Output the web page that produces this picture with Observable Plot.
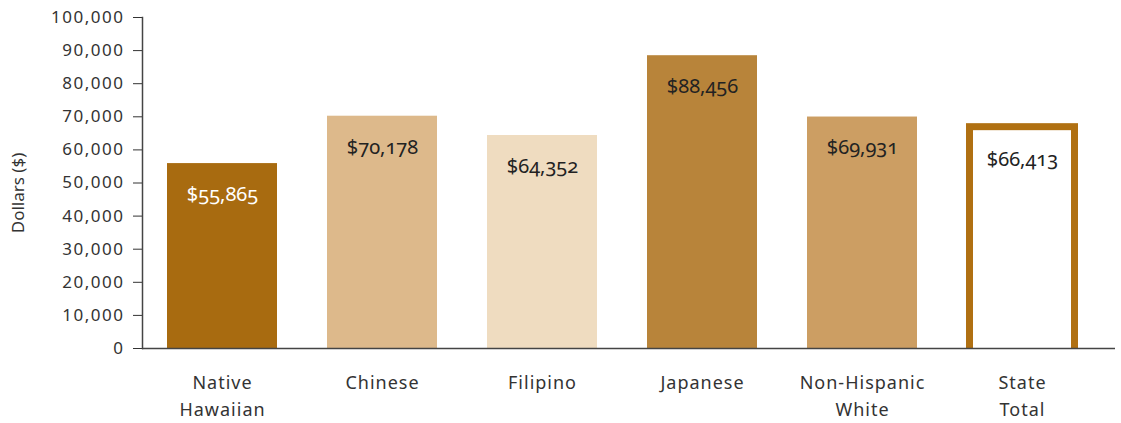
<!DOCTYPE html>
<html>
<head>
<meta charset="utf-8">
<script src="https://cdn.jsdelivr.net/npm/d3@7"></script>
<script src="https://cdn.jsdelivr.net/npm/@observablehq/plot@0.6"></script>
<style>
  html, body { margin: 0; padding: 0; background: #fff; }
  #chart svg { font-family: "Noto Sans", "Open Sans", sans-serif; font-variant-numeric: oldstyle-nums; }
  #chart svg g[aria-label="y-axis tick label"] text { letter-spacing: 1.5px; font-size: 17px; }
  #chart svg g[aria-label="x-axis tick label"] text { letter-spacing: 1px; font-size: 18px; }
</style>
</head>
<body>
<div id="chart"></div>
<script>
const categories = ["Native Hawaiian", "Chinese", "Filipino", "Japanese", "Non-Hispanic White", "State Total"];
const categoryLabels = ["Native\nHawaiian", "Chinese", "Filipino", "Japanese", "Non-Hispanic\nWhite", "State\nTotal"];
const values = [55865, 70178, 64352, 88456, 69931, 66413];
const fillColors = ["#A86B10", "#DDB98B", "#EFDCC0", "#B8843A", "#CC9E63", "#FFFFFF"];
const labelColors = ["#FFFFFF", "#222222", "#222222", "#222222", "#222222", "#222222"];
const yTicks = [0, 10000, 20000, 30000, 40000, 50000, 60000, 70000, 80000, 90000, 100000];
const yAxisTitle = "Dollars ($)";

const data = categories.map((c, i) => ({
  category: c, value: values[i], fill: fillColors[i], labelColor: labelColors[i],
  label: "$" + d3.format(",")(values[i]), outline: c === "State Total"
}));
const labelOf = new Map(categories.map((c, i) => [c, categoryLabels[i]]));
const solid = data.filter(d => !d.outline);
const outline = data.filter(d => d.outline);

const chart = Plot.plot({
  width: 1121,
  height: 423,
  marginLeft: 142,
  marginTop: 17,
  marginBottom: 75,
  marginRight: 6,
  x: { domain: categories, range: [142, 1102], paddingInner: 0.31, paddingOuter: 0.155 },
  y: { domain: [0, 100000] },
  marks: [
    Plot.barY(solid, { x: "category", y: "value", fill: "fill" }),
    Plot.barY(outline, { x: "category", y: "value", fill: "#B07012", insetTop: -5, insetLeft: -1, insetRight: -1 }),
    Plot.barY(outline, { x: "category", y: "value", fill: "#fff", insetTop: 2, insetLeft: 6, insetRight: 6 }),
    Plot.text(data, { x: "category", y: "value", text: "label", fill: "labelColor", dy: 31, fontSize: 20 }),
    Plot.axisY({ ticks: yTicks, tickFormat: d => d3.format(",")(d), tickSize: 9, tickPadding: 9, fontSize: 17, label: null, color: "#333" }),
    Plot.text([yAxisTitle], { frameAnchor: "left", textAnchor: "middle", dx: -124, dy: 10, rotate: -90, fontSize: 17, fill: "#333" }),
    Plot.axisX({ tickSize: 0, tickPadding: 21, fontSize: 18, tickFormat: d => labelOf.get(d), lineHeight: 1.5, label: null, color: "#333" }),
    Plot.frame({ anchor: "left", stroke: "#444", strokeWidth: 1.5 }),
    Plot.ruleY([0], { stroke: "#444", strokeWidth: 1.5 })
  ]
});
document.getElementById("chart").appendChild(chart);
</script>
</body>
</html>
